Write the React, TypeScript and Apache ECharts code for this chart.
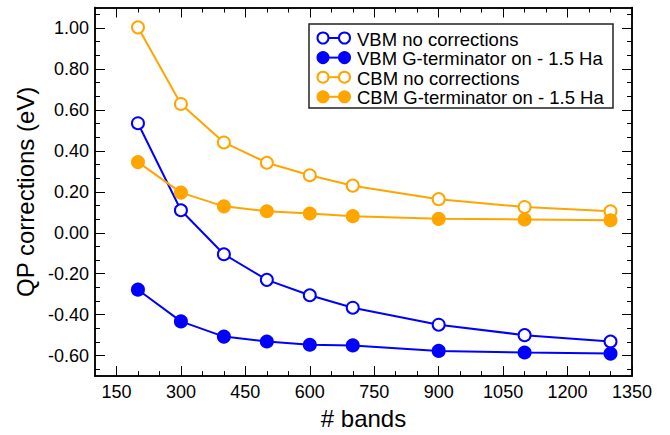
import React, { useEffect, useRef } from "react";
import * as echarts from "echarts";

const bands = [200, 300, 400, 500, 600, 700, 900, 1100, 1300];
const vbmNoCorr = [0.535, 0.11, -0.105, -0.23, -0.305, -0.366, -0.449, -0.5, -0.531];
const vbmGTerm = [-0.278, -0.433, -0.507, -0.531, -0.547, -0.55, -0.577, -0.585, -0.59];
const cbmNoCorr = [1.003, 0.629, 0.441, 0.342, 0.281, 0.23, 0.164, 0.126, 0.105];
const cbmGTerm = [0.345, 0.196, 0.129, 0.105, 0.094, 0.081, 0.068, 0.065, 0.061];

const seriesNames = [
  "VBM no corrections",
  "VBM G-terminator on - 1.5 Ha",
  "CBM no corrections",
  "CBM G-terminator on - 1.5 Ha",
];
const seriesData = [vbmNoCorr, vbmGTerm, cbmNoCorr, cbmGTerm];
const seriesColors = ["#0000ff", "#0000ff", "#ffa500", "#ffa500"];
const seriesFilled = [false, true, false, true];

const xMajorTicks = [150, 300, 450, 600, 750, 900, 1050, 1200, 1350];
const xMinorTicks = [200, 250, 350, 400, 500, 550, 650, 700, 800, 850, 950, 1000, 1100, 1150, 1250, 1300];
const yMajorTicks = [-0.6, -0.4, -0.2, 0, 0.2, 0.4, 0.6, 0.8, 1.0];
const yMinorTicks = [
  -0.6667, -0.5333, -0.4667, -0.3333, -0.2667, -0.1333, -0.0667, 0.0667, 0.1333,
  0.2667, 0.3333, 0.4667, 0.5333, 0.6667, 0.7333, 0.8667, 0.9333, 1.0667,
];

const FONT = "'Liberation Sans', Arial, Helvetica, sans-serif";

export default function App() {
  const ref = useRef<HTMLDivElement>(null);
  useEffect(() => {
    if (!ref.current) return;
    const chart = echarts.init(ref.current, null, { renderer: "svg" });
    const line = { show: true, onZero: false, lineStyle: { color: "#000", width: 1.5 } };
    const mkX = (pos: string, ticks: number[], len: number, labels: boolean, extra: any = {}) => ({
      type: "value",
      position: pos,
      min: 100,
      max: 1350,
      axisLine: line,
      splitLine: { show: false },
      axisTick: { show: true, inside: true, length: len, customValues: ticks, lineStyle: { color: "#000", width: 1 } },
      axisLabel: labels
        ? {
            show: true,
            customValues: ticks,
            fontSize: 18,
            color: "#000",
            fontFamily: FONT,
            margin: 7,
            formatter: (v: number) => String(v),
          }
        : { show: false },
      ...extra,
    });
    const mkY = (pos: string, ticks: number[], len: number, labels: boolean, extra: any = {}) => ({
      type: "value",
      position: pos,
      min: -0.7,
      max: 1.1,
      axisLine: line,
      splitLine: { show: false },
      axisTick: { show: true, inside: true, length: len, customValues: ticks, lineStyle: { color: "#000", width: 1 } },
      axisLabel: labels
        ? {
            show: true,
            customValues: ticks,
            fontSize: 18,
            color: "#000",
            fontFamily: FONT,
            margin: 6,
            formatter: (v: number) => v.toFixed(2),
          }
        : { show: false },
      ...extra,
    });

    const legendX = 309;
    const legendY = 24;
    const rowY0 = 38;
    const rowStep = 19.6;
    const legendChildren: any[] = [
      {
        type: "rect",
        shape: { x: legendX, y: legendY, width: 304, height: 84 },
        style: { fill: "#fff", stroke: "#222", lineWidth: 1.5 },
      },
    ];
    seriesNames.forEach((name, i) => {
      const y = rowY0 + i * rowStep;
      const c = seriesColors[i];
      const fill = seriesFilled[i] ? c : "#fff";
      legendChildren.push(
        { type: "line", shape: { x1: 323, y1: y, x2: 344.5, y2: y }, style: { stroke: c, lineWidth: 2 } },
        { type: "circle", shape: { cx: 323, cy: y, r: 5.5 }, style: { fill, stroke: c, lineWidth: 2 } },
        { type: "circle", shape: { cx: 344.5, cy: y, r: 5.5 }, style: { fill, stroke: c, lineWidth: 2 } },
        {
          type: "text",
          x: 357,
          y: y + 1,
          style: { text: name, fill: "#000", font: `18.5px ${FONT}`, textVerticalAlign: "middle", verticalAlign: "middle" },
        }
      );
    });

    chart.setOption({
      animation: false,
      backgroundColor: "#fff",
      textStyle: { fontFamily: FONT },
      grid: { left: 95, top: 7.5, right: 38, bottom: 52, containLabel: false },
      xAxis: [
        mkX("bottom", xMajorTicks, 10, true, {
          name: "# bands",
          nameLocation: "middle",
          nameGap: 23,
          nameTextStyle: { fontSize: 24, color: "#000", fontFamily: FONT },
        }),
        mkX("bottom", xMinorTicks, 5, false),
        mkX("top", xMajorTicks, 10, false),
        mkX("top", xMinorTicks, 5, false),
      ],
      yAxis: [
        mkY("left", yMajorTicks, 10, true, {
          name: "QP corrections (eV)",
          nameLocation: "middle",
          nameRotate: 90,
          nameGap: 55,
          nameTextStyle: { fontSize: 24, color: "#000", fontFamily: FONT },
        }),
        mkY("left", yMinorTicks, 5, false),
        mkY("right", yMajorTicks, 10, false),
        mkY("right", yMinorTicks, 5, false),
      ],
      series: seriesNames.map((name, i) => ({
        name,
        type: "line",
        xAxisIndex: 0,
        yAxisIndex: 0,
        data: bands.map((b, j) => [b, seriesData[i][j]]),
        symbol: "circle",
        symbolSize: 12,
        showSymbol: true,
        lineStyle: { color: seriesColors[i], width: 2 },
        itemStyle: {
          color: seriesFilled[i] ? seriesColors[i] : "#fff",
          borderColor: seriesColors[i],
          borderWidth: 2,
          opacity: 1,
        },
        z: 2,
      })),
      graphic: { elements: [{ type: "group", z: 100, children: legendChildren }] },
    });
    return () => chart.dispose();
  }, []);
  return <div ref={ref} style={{ position: "fixed", left: 0, top: 0, width: 670, height: 435 }} />;
}
